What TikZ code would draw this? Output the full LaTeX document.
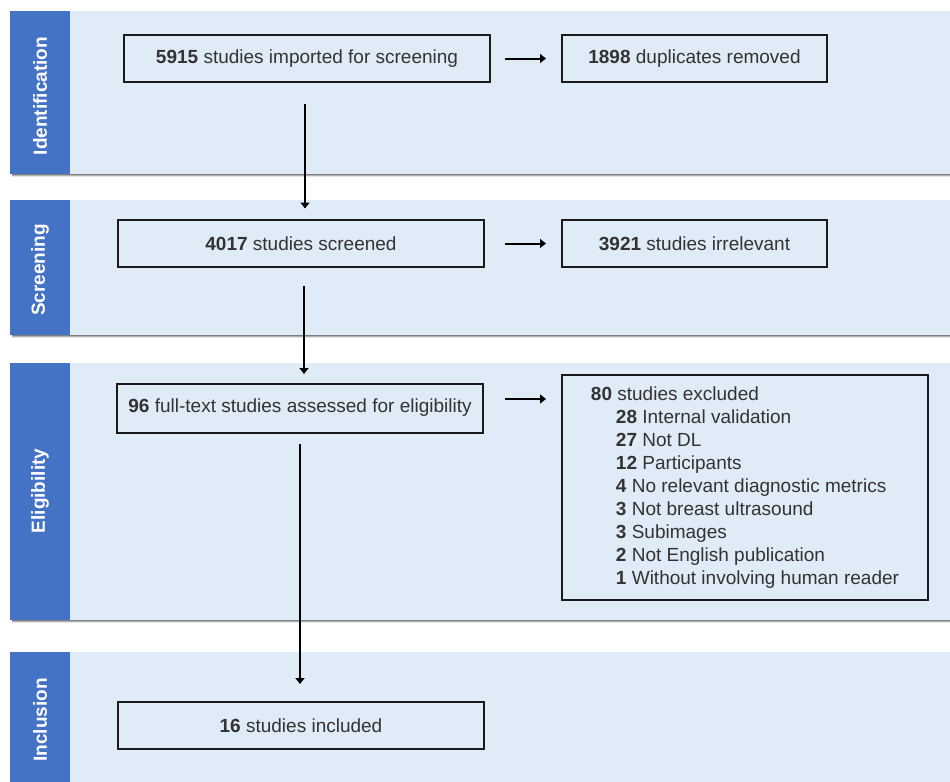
\documentclass[tikz,border=0pt]{standalone}
\usepackage{fontspec}
\setmainfont{Liberation Sans}
\usepackage{xcolor}
\usepackage{tikz}
\usetikzlibrary{arrows.meta}
\definecolor{bandfill}{HTML}{DFEBF7}
\definecolor{sidebar}{HTML}{4472C4}
\definecolor{txt}{HTML}{333333}
\definecolor{shade}{HTML}{C5C9CF}

\begin{document}
\begin{tikzpicture}[x=0.5pt, y=-0.5pt,
  font=\fontsize{9.5}{11.45}\selectfont, text=txt,
  box/.style={draw=black!90, line width=1pt, minimum height=23.5pt, inner sep=0pt},
  stage/.style={rotate=90, text=white, font=\fontsize{9.5}{11.45}\selectfont\bfseries},
  arr/.style={draw=black, line width=1pt, -{Triangle[length=3pt,width=4.5pt]}}]
\useasboundingbox (0,0) rectangle (950,782);

\foreach \top/\bot in {11/174, 200/335, 363/620, 652/800} {
  \fill[shade] (12,\bot) rectangle (950,\bot+2.5);
  \fill[bandfill] (10,\top) rectangle (950,\bot);
  \fill[sidebar] (10,\top) rectangle (70,\bot);
}

\node[stage] (lid) at (40,96) {Identification};
\node[stage] (lscr) at (40,270) {Screening};
\node[stage] (lelig) at (40,491) {Eligibility};
\node[stage] (linc) at (40,720) {Inclusion};

\node[box, minimum width=183pt] (imp) at (307,58.5) {\textbf{5915} studies imported for screening};
\node[box, minimum width=132.5pt] (dup) at (694.5,58.5) {\textbf{1898} duplicates removed};
\node[box, minimum width=183pt] (scr) at (301,243.5) {\textbf{4017} studies screened};
\node[box, minimum width=132.5pt] (irr) at (694.5,243.5) {\textbf{3921} studies irrelevant};
\node[box, minimum width=183pt, minimum height=24.5pt] (full) at (300,408) {\textbf{96} full-text studies assessed for eligibility};
\node[box, minimum width=183pt, minimum height=112.5pt, align=left] (excl) at (745,487.5) {%
\textbf{80} studies excluded\\
\hspace*{12.5pt}\textbf{28} Internal validation\\
\hspace*{12.5pt}\textbf{27} Not DL\\
\hspace*{12.5pt}\textbf{12} Participants\\
\hspace*{12.5pt}\textbf{4} No relevant diagnostic metrics\\
\hspace*{12.5pt}\textbf{3} Not breast ultrasound\\
\hspace*{12.5pt}\textbf{3} Subimages\\
\hspace*{12.5pt}\textbf{2} Not English publication\\
\hspace*{12.5pt}\textbf{1} Without involving human reader};
\node[box, minimum width=183pt] (inc) at (301,725.5) {\textbf{16} studies included};

\draw[arr, shorten <=7pt, shorten >=7.5pt] (imp) -- (dup);
\draw[arr, shorten <=10pt, shorten >=7.5pt] (scr) -- (irr);
\draw[arr, shorten <=10.5pt, shorten >=7.5pt] ([yshift=4.5pt]full.east) -- ([yshift=4.5pt]full.east -| excl.west);
\draw[arr, shorten <=10.5pt, shorten >=5.25pt] ([xshift=-1pt]imp.south) -- ([xshift=-1pt]imp.south |- scr.north);
\draw[arr, shorten <=9pt, shorten >=4.25pt] ([xshift=1.5pt]scr.south) -- ([xshift=1.5pt]scr.south |- full.north);
\draw[arr, shorten <=5pt, shorten >=8.5pt] (full.south) -- (full.south |- inc.north);
\end{tikzpicture}
\end{document}
